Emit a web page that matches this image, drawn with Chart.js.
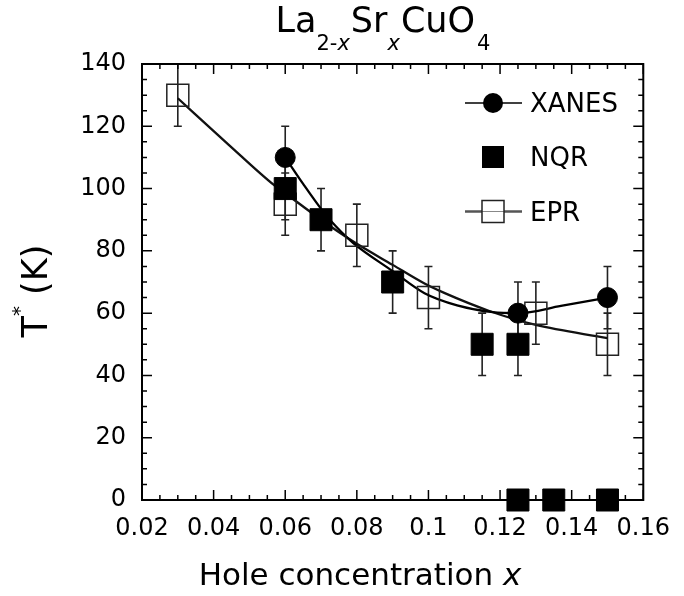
<!DOCTYPE html>
<html>
<head>
<meta charset="utf-8">
<script src="https://cdn.jsdelivr.net/npm/chart.js@4.4.1/dist/chart.umd.min.js"></script>
<style>
  html, body { margin: 0; padding: 0; background: #fff; }
  #wrap { width: 684px; height: 596px; position: relative; }
</style>
</head>
<body>
<div id="wrap"><canvas id="c" width="684" height="596"></canvas></div>
<script>
const FONT = '"DejaVu Sans", "Liberation Sans", sans-serif';

// Pseudogap temperature T* versus hole concentration, three probes
const xanesX = [0.06, 0.125, 0.15];
const xanesT = [110, 60, 65];
const xanesErr = [10, 10, 10];

const nqrX = [0.06, 0.07, 0.09, 0.115, 0.125, 0.125, 0.135, 0.15];
const nqrT = [100, 90, 70, 50, 50, 0, 0, 0];
const nqrErr = [10, 10, 10, 10, 10, 0, 0, 0];

const eprX = [0.03, 0.06, 0.08, 0.1, 0.13, 0.15];
const eprT = [130, 95, 85, 65, 60, 50];
const eprErr = [10, 10, 10, 10, 10, 10];

// Guide-to-the-eye curves
const xanesCurveX = [0.06, 0.065, 0.0706, 0.0742, 0.079, 0.09, 0.0989, 0.108, 0.118, 0.125, 0.137, 0.15];
const xanesCurveT = [110, 101.5, 92.6, 87.8, 82.5, 73.5, 66.4, 62.5, 60.3, 60, 62.3, 65];
const eprCurveX = [0.03, 0.044, 0.057, 0.06, 0.07, 0.079, 0.09, 0.0989, 0.1044, 0.117, 0.13, 0.15];
const eprCurveT = [129, 114.3, 101, 98.5, 90, 83, 75.5, 69.5, 66.5, 60.7, 56.2, 52];

const xTicks = [0.02, 0.04, 0.06, 0.08, 0.1, 0.12, 0.14, 0.16];
const xTickLabels = ['0.02', '0.04', '0.06', '0.08', '0.1', '0.12', '0.14', '0.16'];
const yTicks = [0, 20, 40, 60, 80, 100, 120, 140];
const seriesNames = ['XANES', 'NQR', 'EPR'];

const pts = (xs, ys) => xs.map((x, i) => ({ x: x, y: ys[i] }));
const SIDE = 22;
const SQ = SIDE / Math.SQRT2; // rect point radius giving a SIDE-px square

// Draws a run of text pieces (sub/superscripts, italics) centred on cx
function richWidth(ctx, parts) {
  let w = 0;
  parts.forEach(p => {
    ctx.font = (p.italic ? 'italic ' : '') + p.size + 'px ' + FONT;
    w += ctx.measureText(p.t).width + (p.gap || 0);
  });
  return w;
}
function drawRich(ctx, parts, cx, y) {
  let x = cx - richWidth(ctx, parts) / 2;
  ctx.textAlign = 'left';
  ctx.textBaseline = 'alphabetic';
  parts.forEach(p => {
    ctx.font = (p.italic ? 'italic ' : '') + p.size + 'px ' + FONT;
    ctx.fillText(p.t, x, y + (p.dy || 0));
    x += ctx.measureText(p.t).width + (p.gap || 0);
  });
}

const decorations = {
  id: 'decorations',
  beforeDatasetsDraw(chart) {
    const ctx = chart.ctx;
    const xs = chart.scales.x, ys = chart.scales.y;
    // vertical error bars with short caps
    ctx.save();
    ctx.strokeStyle = '#222';
    ctx.lineWidth = 1.6;
    chart.data.datasets.forEach(ds => {
      if (!ds.errors) return;
      ds.data.forEach((p, i) => {
        const e = ds.errors[i];
        if (!e) return;
        const px = xs.getPixelForValue(p.x);
        const y1 = ys.getPixelForValue(p.y + e);
        const y2 = ys.getPixelForValue(p.y - e);
        ctx.beginPath();
        ctx.moveTo(px, y1); ctx.lineTo(px, y2);
        ctx.moveTo(px - 4, y1); ctx.lineTo(px + 4, y1);
        ctx.moveTo(px - 4, y2); ctx.lineTo(px + 4, y2);
        ctx.stroke();
      });
    });
    ctx.restore();
  },
  afterDraw(chart) {
    const ctx = chart.ctx;
    const a = chart.chartArea;
    const xs = chart.scales.x, ys = chart.scales.y;
    ctx.save();
    // frame
    ctx.strokeStyle = '#000';
    ctx.lineWidth = 2;
    ctx.strokeRect(a.left, a.top, a.right - a.left, a.bottom - a.top);
    // inward ticks on all four sides
    ctx.lineWidth = 1.5;
    ctx.beginPath();
    for (let i = 0; i < xTicks.length; i++) {
      const v = xTicks[i];
      const px = xs.getPixelForValue(v);
      ctx.moveTo(px, a.bottom); ctx.lineTo(px, a.bottom - 10);
      ctx.moveTo(px, a.top); ctx.lineTo(px, a.top + 10);
      if (i < xTicks.length - 1) {
        const step = (xTicks[i + 1] - v) / 4;
        for (let k = 1; k < 4; k++) {
          const mx = xs.getPixelForValue(v + k * step);
          ctx.moveTo(mx, a.bottom); ctx.lineTo(mx, a.bottom - 5);
          ctx.moveTo(mx, a.top); ctx.lineTo(mx, a.top + 5);
        }
      }
    }
    for (let i = 0; i < yTicks.length; i++) {
      const v = yTicks[i];
      const py = ys.getPixelForValue(v);
      ctx.moveTo(a.left, py); ctx.lineTo(a.left + 10, py);
      ctx.moveTo(a.right, py); ctx.lineTo(a.right - 10, py);
      if (i < yTicks.length - 1) {
        const step = (yTicks[i + 1] - v) / 4;
        for (let k = 1; k < 4; k++) {
          const my = ys.getPixelForValue(v + k * step);
          ctx.moveTo(a.left, my); ctx.lineTo(a.left + 5, my);
          ctx.moveTo(a.right, my); ctx.lineTo(a.right - 5, my);
        }
      }
    }
    ctx.stroke();

    ctx.fillStyle = '#000';
    // chemical formula title
    drawRich(ctx, [
      { t: 'La', size: 35 },
      { t: '2-', size: 21, dy: 18 },
      { t: 'x', size: 21, dy: 18, italic: true, gap: 1 },
      { t: 'Sr', size: 35 },
      { t: 'x', size: 21, dy: 18, italic: true, gap: 1 },
      { t: 'CuO', size: 35, gap: 2 },
      { t: '4', size: 21, dy: 18 }
    ], 383, 32);

    // x-axis title
    drawRich(ctx, [
      { t: 'Hole concentration ', size: 31 },
      { t: 'x', size: 31, italic: true }
    ], 360, 585);

    // y-axis title, rotated
    ctx.save();
    ctx.translate(47, 291);
    ctx.rotate(-Math.PI / 2);
    drawRich(ctx, [
      { t: 'T', size: 35 },
      { t: '*', size: 20, dy: -21 },
      { t: ' (K)', size: 35 }
    ], 0, 0);
    ctx.restore();

    // legend
    const lx = 493, rows = [103, 157, 211.5];
    const h = SIDE / 2;
    ctx.strokeStyle = '#000';
    ctx.lineWidth = 1.5;
    ctx.beginPath();
    ctx.moveTo(465, rows[0]); ctx.lineTo(522, rows[0]);
    ctx.stroke();
    ctx.strokeStyle = '#555';
    ctx.lineWidth = 2.5;
    ctx.beginPath();
    ctx.moveTo(465, rows[2]); ctx.lineTo(522, rows[2]);
    ctx.stroke();
    ctx.fillStyle = '#000';
    ctx.beginPath(); ctx.arc(lx, rows[0], 10, 0, Math.PI * 2); ctx.fill();
    ctx.fillRect(lx - h, rows[1] - h, SIDE, SIDE);
    ctx.fillStyle = '#fff';
    ctx.fillRect(lx - h, rows[2] - h, SIDE, SIDE);
    ctx.beginPath();
    ctx.moveTo(lx - h, rows[2]); ctx.lineTo(lx + h, rows[2]);
    ctx.strokeStyle = '#888'; ctx.lineWidth = 1;
    ctx.stroke();
    ctx.strokeStyle = '#222';
    ctx.lineWidth = 1.5;
    ctx.strokeRect(lx - h, rows[2] - h, SIDE, SIDE);
    ctx.fillStyle = '#000';
    ctx.font = '26px ' + FONT;
    ctx.textAlign = 'left';
    ctx.textBaseline = 'alphabetic';
    ctx.fillText(seriesNames[0], 530, rows[0] + 9);
    ctx.fillText(seriesNames[1], 530, rows[1] + 9);
    ctx.fillText(seriesNames[2], 530, rows[2] + 9);
    ctx.restore();
  }
};

new Chart(document.getElementById('c'), {
  type: 'scatter',
  data: {
    datasets: [
      { label: seriesNames[1], data: pts(nqrX, nqrT), errors: nqrErr, pointStyle: 'rect', pointRadius: SQ,
        backgroundColor: '#000', borderColor: '#000', borderWidth: 1, order: 0, clip: false },
      { label: seriesNames[0], data: pts(xanesX, xanesT), errors: xanesErr, pointStyle: 'circle', pointRadius: 10,
        backgroundColor: '#000', borderColor: '#000', borderWidth: 1, order: 1, clip: false },
      { label: seriesNames[2], data: pts(eprX, eprT), errors: eprErr, pointStyle: 'rect', pointRadius: SQ,
        backgroundColor: 'rgba(0,0,0,0)', borderColor: '#222', borderWidth: 1.5, order: 2, clip: false },
      { label: 'XANES curve', data: pts(xanesCurveX, xanesCurveT), showLine: true, pointRadius: 0,
        borderColor: '#000', borderWidth: 2.3, cubicInterpolationMode: 'monotone', order: 3 },
      { label: 'EPR curve', data: pts(eprCurveX, eprCurveT), showLine: true, pointRadius: 0,
        borderColor: '#111', borderWidth: 2.3, cubicInterpolationMode: 'monotone', order: 4 }
    ]
  },
  options: {
    responsive: false,
    animation: false,
    events: [],
    layout: { padding: { top: 64, right: 31, left: 0, bottom: 0 } },
    plugins: { legend: { display: false }, tooltip: { enabled: false }, title: { display: false } },
    scales: {
      x: {
        type: 'linear', min: 0.02, max: 0.16,
        grid: { display: false, drawTicks: false },
        border: { display: false },
        afterBuildTicks: s => { s.ticks = xTicks.map(v => ({ value: v })); },
        afterFit: s => { s.height = 96; },
        ticks: {
          font: { family: FONT, size: 24 }, color: '#000', padding: 14,
          autoSkip: false, maxRotation: 0, minRotation: 0,
          callback: (v, i) => xTickLabels[i]
        }
      },
      y: {
        type: 'linear', min: 0, max: 140,
        grid: { display: false, drawTicks: false },
        border: { display: false },
        afterBuildTicks: s => { s.ticks = yTicks.map(v => ({ value: v })); },
        afterFit: s => { s.width = 142; },
        ticks: {
          font: { family: FONT, size: 24 }, color: '#000', padding: 16,
          callback: (v, i) => String(yTicks[i])
        }
      }
    }
  },
  plugins: [decorations]
});
</script>
</body>
</html>
